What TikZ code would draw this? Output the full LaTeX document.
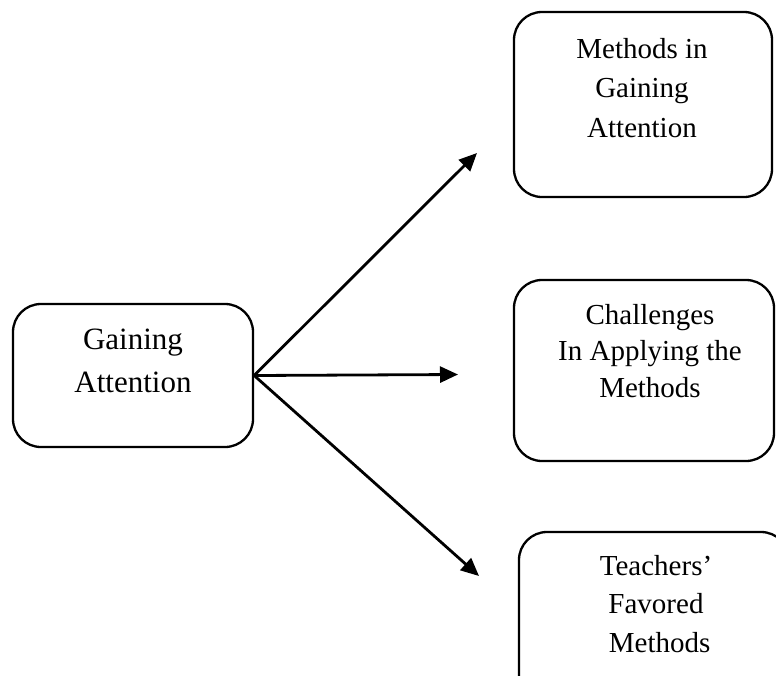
\documentclass[tikz,border=0pt]{standalone}
\usepackage{fontspec}
\setmainfont{Liberation Serif}
\usetikzlibrary{arrows.meta}
\begin{document}
\begin{tikzpicture}[x=1pt,y=-1pt,
  box/.style={draw=black,line width=2.3pt,rounded corners=28pt,inner sep=0pt},
  lbl/.style={align=center,inner sep=0pt,anchor=base},
  conn/.style={line width=2.8pt,-{Triangle[length=18pt,width=16pt]}}]
\useasboundingbox (0,0) rectangle (776,675);
% boxes
\node[box,minimum width=240pt,minimum height=143pt] (g) at (133,375.5) {};
\node[box,minimum width=258pt,minimum height=185pt] (m) at (643,104.5) {};
\node[box,minimum width=260pt,minimum height=181pt] (c) at (644,370.5) {};
\begin{scope}
\clip (0,0) rectangle (776,675);
\node[box,minimum width=270pt,minimum height=180pt] (t) at (654,622) {};
\end{scope}
% texts (anchored at the baseline of the last line)
\node[lbl,font=\fontsize{31}{43}\selectfont] (gt) at (133,392) {Gaining\\Attention};
\node[lbl,font=\fontsize{29}{39.5}\selectfont] (mt) at (642,137) {Methods in\\Gaining\\Attention};
\node[lbl,font=\fontsize{29}{36.5}\selectfont] (ct) at (650,397) {Challenges\\In Applying the\\Methods};
\node[lbl,font=\fontsize{29}{38.5}\selectfont] (tt) at (656,652) {Teachers'\\Favored\\\ Methods};
% connector ends
\coordinate (e1) at (477,153);
\coordinate (e2) at (458,374.5);
\coordinate (e3) at (479,576);
\draw[conn] (g.east) -- (e1);
\draw[conn] (g.east) -- (e2);
\draw[conn] (g.east) -- (e3);
\end{tikzpicture}
\end{document}
